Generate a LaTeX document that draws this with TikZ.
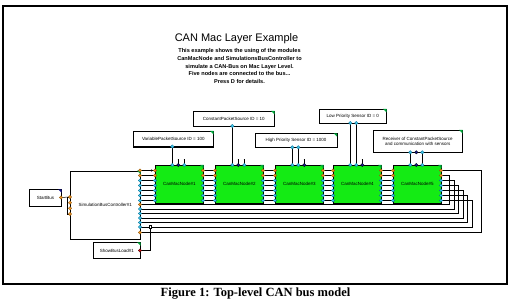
\documentclass[tikz,border=0pt]{standalone}
\usepackage{fontspec}
\setmainfont{Liberation Serif}
\setsansfont{Liberation Sans}
\usetikzlibrary{arrows.meta}
\definecolor{nodegreen}{RGB}{20,235,20}
\definecolor{cportC}{RGB}{70,200,235}
\definecolor{cportD}{RGB}{0,110,150}
\definecolor{oportC}{RGB}{235,150,45}
\definecolor{oportD}{RGB}{150,85,0}
\definecolor{bportC}{RGB}{25,25,150}
\definecolor{rportC}{RGB}{200,20,20}
\definecolor{cornergreen}{RGB}{0,170,60}
\definecolor{cornerblue}{RGB}{20,20,140}
\begin{document}
\begin{tikzpicture}[x=1pt,y=-1pt,
  box/.style={draw=black, line width=0.6pt, fill=white, inner sep=0pt, anchor=north west,
    font=\sffamily\fontsize{4.5}{5.4}\selectfont, align=center},
  cmn/.style={box, fill=nodegreen, minimum width=48pt, minimum height=38pt},
  wire/.style={draw=black, line width=0.5pt},
  thickwire/.style={draw=black, line width=1.2pt},
  portbase/.style={circle, inner sep=0pt, minimum size=3.4pt, line width=0.3pt},
  cport/.style={portbase, draw=cportD, fill=cportC},
  oport/.style={portbase, draw=oportD, fill=oportC},
  bport/.style={portbase, draw=black, fill=bportC},
  rport/.style={portbase, draw=black!70!red, fill=rportC},
  junct/.style={draw=black, fill=white, line width=0.4pt, inner sep=0pt, minimum size=2.6pt},
  stub/.style={draw=black, line width=0.4pt}
]
\useasboundingbox (0,0) rectangle (514,307);
\fill[white] (0,0) rectangle (514,307);
% frame
\draw[line width=1.5pt] (3,6) rectangle (507,284);
% title and description
\node[font=\sffamily\fontsize{11}{13}\selectfont] (title) at (236.5,39) {CAN Mac Layer Example};
\node[font=\sffamily\bfseries\fontsize{5.6}{7.75}\selectfont, align=center, anchor=north] (desc) at (239.5,45)
  {This example shows the using of the modules\\CanMacNode and SimulationsBusController to\\simulate a CAN-Bus on Mac Layer Level.\\Five nodes are connected to the bus...\\Press D for details.};
% caption
\node[font=\bfseries\fontsize{12.5}{14}\selectfont] (cap) at (255.5,293.5) {Figure 1: Top-level CAN bus model};

% top boxes
\node[box, minimum width=81pt, minimum height=15pt] (cps) at (193,111) {ConstantPacketSource ID = 10};
\node[box, minimum width=67pt, minimum height=14pt] (lps) at (319,109) {Low Priority Sensor ID = 0};
\node[box, line width=1.2pt, minimum width=79.5pt, minimum height=15.5pt] (vps) at (133,131) {VariablePacketSource ID = 100};
\node[box, minimum width=81.5pt, minimum height=14pt] (hps) at (255,133.3) {High Priority Sensor ID = 1000};
\node[box, minimum width=89.3pt, minimum height=22.3pt] (rcv) at (372.7,130) {Receiver of ConstantPacketSource\\and communication with sensors};

% controller, start, showbusload
\node[box, minimum width=70pt, minimum height=68.3pt] (ctl) at (70,170.7) {SimulationBusController\#1};
\node[box, minimum width=31.7pt, minimum height=16.4pt] (sb) at (29.3,189.3) {StartBus};
\node[box, minimum width=46.7pt, minimum height=16pt] (sbl) at (93.3,242.3) {ShowBusLoad\#1};

% CAN nodes
\foreach \i/\xl in {1/155,2/215,3/275,4/333,5/393} {
  \node[cmn] (n\i) at (\xl,165) {CanMacNode\#\i};
}

% corners
\foreach \b in {cps,lps,vps,hps,rcv,ctl,sbl,n1,n2,n3,n4,n5}{
  \fill[cornergreen] (\b.north east) -- ++(-3.5,0) -- ++(3.5,3.5) -- cycle;
}
\fill[cornerblue] (sb.north east) -- ++(-3.5,0) -- ++(3.5,3.5) -- cycle;

% coordinates of side ports
\foreach \i/\xl in {1/155,2/215,3/275,4/333,5/393} {
  \foreach \k in {1,...,7} {
    \coordinate (n\i l\k) at (\xl,165.5+5*\k);
    \coordinate (n\i r\k) at (\xl+48,165.5+5*\k);
  }
  \coordinate (n\i t1) at (\xl+17.3,165);
  \coordinate (n\i t2) at (\xl+23.3,165);
  \coordinate (n\i t3) at (\xl+29.3,165);
}
\foreach \k in {1,...,7} { \coordinate (cr\k) at (140,165.5+5*\k); }
\foreach \k/\yy in {1/204.5,2/209,3/213.5,4/218,5/222.5,6/227,7/232.5} { \coordinate (cb\k) at (140,\yy); }
\foreach \k/\yy in {1/197,2/202.7,3/208.3,4/214} { \coordinate (cl\k) at (70,\yy); }
\coordinate (sbp) at (61,197.5);
\coordinate (sblp) at (140,250.5);
\coordinate (jn) at (150,227);
% top box ports
\coordinate (vpsp) at (172.3,146.5);
\coordinate (cpsp) at (232.3,126);
\coordinate (hpsp1) at (292.3,147.3);
\coordinate (hpsp2) at (298.3,147.3);
\coordinate (lpsp1) at (350.3,123);
\coordinate (lpsp2) at (356.3,123);
\coordinate (rcvp1) at (410.3,152.3);
\coordinate (rcvp2) at (416.3,152.3);
\coordinate (rcvp3) at (422.3,152.3);

% wires: controller to node 1, and node to node
\foreach \k in {1,...,7} { \draw[wire] (cr\k) -- (n1l\k); }
\draw[thickwire] (cr4) -- (n1l4);
\foreach \i/\j in {1/2,2/3,3/4,4/5} {
  \foreach \k in {1,...,7} { \draw[wire] (n\i r\k) -- (n\j l\k); }
  \draw[thickwire] (n\i r4) -- (n\j l4);
}
% return loops from node 5 to controller
\foreach \p/\xx/\r in {3/454/2,4/458.5/3,5/463/4,6/467.5/5,7/472/6} {
  \draw[wire] (n5r\p) -- ++({\xx-441},0) |- (cb\r);
}
\draw[wire] (n5r2) -- ++(8.5,0) |- (cb1);
\draw[thickwire] (cb1) -- ++(309.5,0);
\draw[wire] (n5r1) -- ++(40,0) |- (cb7);
\draw[thickwire] (n5r1) -- ++(40,0);
% show bus load
\draw[wire] (jn) |- (sblp);
% start bus
\draw[wire] (sbp) -- (cl1);
\draw[wire] (cl1) -- ++(-2.5,0) |- (cl4);
% vertical connectors from top boxes
\draw[wire] (vpsp) -- (n1t1);
\draw[wire] (cpsp) -- (n2t1);
\draw[wire] (hpsp1) -- (n3t1);
\draw[wire] (hpsp2) -- (n3t2);
\draw[wire] (lpsp1) -- (n4t1);
\draw[wire] (lpsp2) -- (n4t2);
\draw[wire] (rcvp1) -- (n5t1);
\draw[wire] (rcvp3) -- (n5t3);
% stubs
\foreach \s in {n1t2,n1t3,n2t2,n2t3,n3t3,n4t3} {
  \draw[stub] (\s) -- ++(0,-6);
  \draw[stub] ([yshift=5.5pt]\s) ++(-0.8,0) -- ++(1.6,0);
}
% small arrow mark at node 1 input
\draw[-{Stealth[length=2.2pt,width=2.4pt]}, line width=0.5pt] (149,170.5) -- (153.2,170.5);

% ports
\foreach \i in {1,...,5} {
  \foreach \k in {1,2} { \node[oport] at (n\i l\k) {}; \node[oport] at (n\i r\k) {}; }
  \foreach \k in {3,...,7} { \node[cport] at (n\i l\k) {}; \node[cport] at (n\i r\k) {}; }
  \node[cport] at (n\i t1) {};
}
\foreach \s in {n1t3,n2t3,n3t2,n4t2,n5t3} { \node[cport] at (\s) {}; }
\foreach \s in {n1t2,n2t2,n3t3,n4t3,n5t2} { \node[bport] at (\s) {}; }
\foreach \k in {1,2} { \node[oport] at (cr\k) {}; }
\foreach \k in {3,...,7} { \node[cport] at (cr\k) {}; }
\node[oport] at (cb1) {};
\foreach \k in {2,...,6} { \node[cport] at (cb\k) {}; }
\node[oport] at (cb7) {};
\foreach \k in {1,...,4} { \node[oport] at (cl\k) {}; }
\node[oport] at (sbp) {};
\node[rport] at (sblp) {};
\node[junct] at (jn) {};
\foreach \s in {vpsp,cpsp,hpsp1,hpsp2,lpsp1,lpsp2,rcvp1,rcvp3} { \node[cport] at (\s) {}; }
\node[bport] at (rcvp2) {};
\end{tikzpicture}
\end{document}
